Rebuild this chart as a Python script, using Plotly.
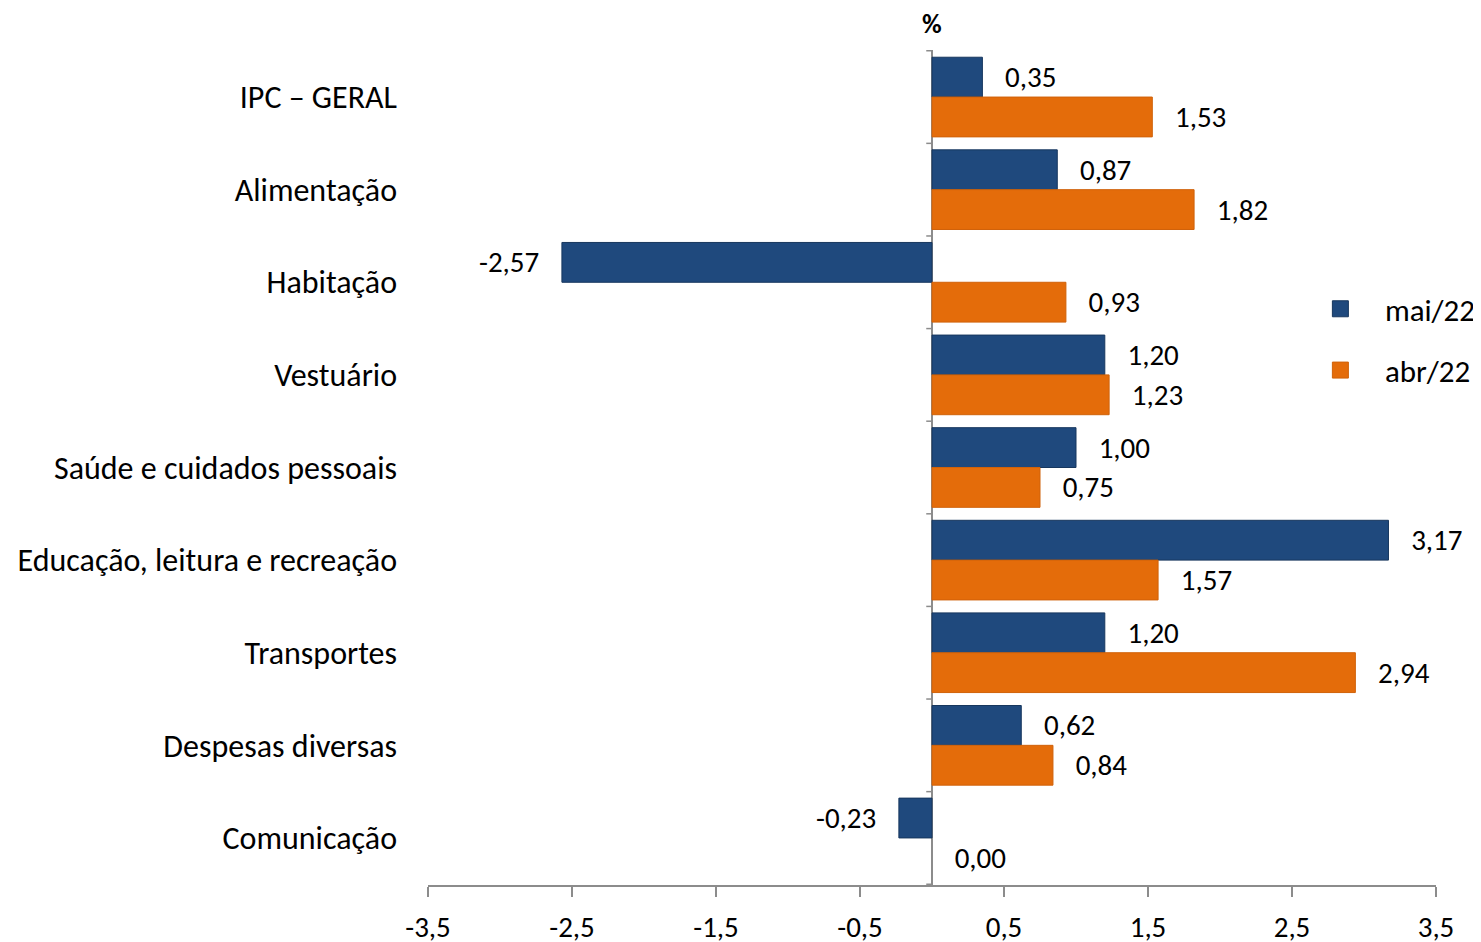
import plotly.graph_objects as go

categories = ["IPC – GERAL", "Alimentação", "Habitação", "Vestuário",
              "Saúde e cuidados pessoais", "Educação, leitura e recreação",
              "Transportes", "Despesas diversas", "Comunicação"]
mai22 = [0.35, 0.87, -2.57, 1.20, 1.00, 3.17, 1.20, 0.62, -0.23]
abr22 = [1.53, 1.82, 0.93, 1.23, 0.75, 1.57, 2.94, 0.84, 0.00]
xticks = [-3.5, -2.5, -1.5, -0.5, 0.5, 1.5, 2.5, 3.5]

FONT = "Carlito, Lato, 'Liberation Sans', sans-serif"
BLUE = "#1F497D"
ORANGE = "#E46C0A"


def fmt(v):
    s = f"{v:.2f}".replace(".", ",")
    return ("   " + s) if v >= 0 else (s + "   ")


fig = go.Figure()
for name, vals, col, line in [("mai/22", mai22, BLUE, "#17375E"),
                              ("abr/22", abr22, ORANGE, "#D0620A")]:
    fig.add_trace(go.Bar(
        y=categories, x=vals, name=name, orientation="h",
        marker=dict(color=col,
                    line=dict(color=[line if v != 0 else "rgba(0,0,0,0)" for v in vals],
                              width=1)),
        text=[fmt(v) for v in vals], textposition="outside",
        textfont=dict(family=FONT, size=29, color="black"),
        cliponaxis=False, showlegend=False,
    ))
# legend entries with larger square swatches
for name, col, line in [("mai/22", BLUE, "#17375E"), ("abr/22", ORANGE, "#D0620A")]:
    fig.add_trace(go.Scatter(
        x=[None], y=[None], mode="markers", name=name, legendgroup=name,
        marker=dict(symbol="square", size=20, color=col, line=dict(color=line, width=1)),
    ))

shapes = []
for i in range(len(categories) + 1):
    shapes.append(dict(type="line", xref="x", yref="y",
                       x0=-0.04, x1=0, y0=i - 0.5, y1=i - 0.5,
                       line=dict(color="#8C8C8C", width=1.5)))

fig.update_layout(
    width=1481, height=942,
    margin=dict(l=420, r=53, t=42, b=65, autoexpand=False),
    paper_bgcolor="white", plot_bgcolor="white",
    barmode="group", bargap=0.14, bargroupgap=0,
    font=dict(family=FONT, size=29, color="black"),
    showlegend=True,
    legend=dict(x=0.861, y=0.722, xanchor="left", yanchor="top",
                font=dict(size=31), tracegroupgap=18, itemwidth=79,
                bgcolor="rgba(0,0,0,0)"),
    shapes=shapes,
    annotations=[dict(x=0, y=1.0, xref="x", yref="paper", yshift=8,
                      text="<b>%</b>", showarrow=False,
                      font=dict(size=27, family=FONT), yanchor="bottom")],
    xaxis=dict(range=[-3.5, 3.5], tickvals=xticks,
               ticktext=[f"{t:.1f}".replace(".", ",") for t in xticks],
               showgrid=False, zeroline=True, zerolinecolor="#8C8C8C",
               zerolinewidth=1.5, showline=True, linecolor="#8C8C8C",
               linewidth=1.5, ticks="outside", tickcolor="#8C8C8C",
               ticklen=10, tickwidth=1.5, tickfont=dict(size=29),
               ticklabelstandoff=5, automargin=False),
    yaxis=dict(autorange="reversed", showgrid=False, showline=False,
               ticks="", ticklabelstandoff=30, tickfont=dict(size=32),
               automargin=False),
)

fig.write_html("out.html")
